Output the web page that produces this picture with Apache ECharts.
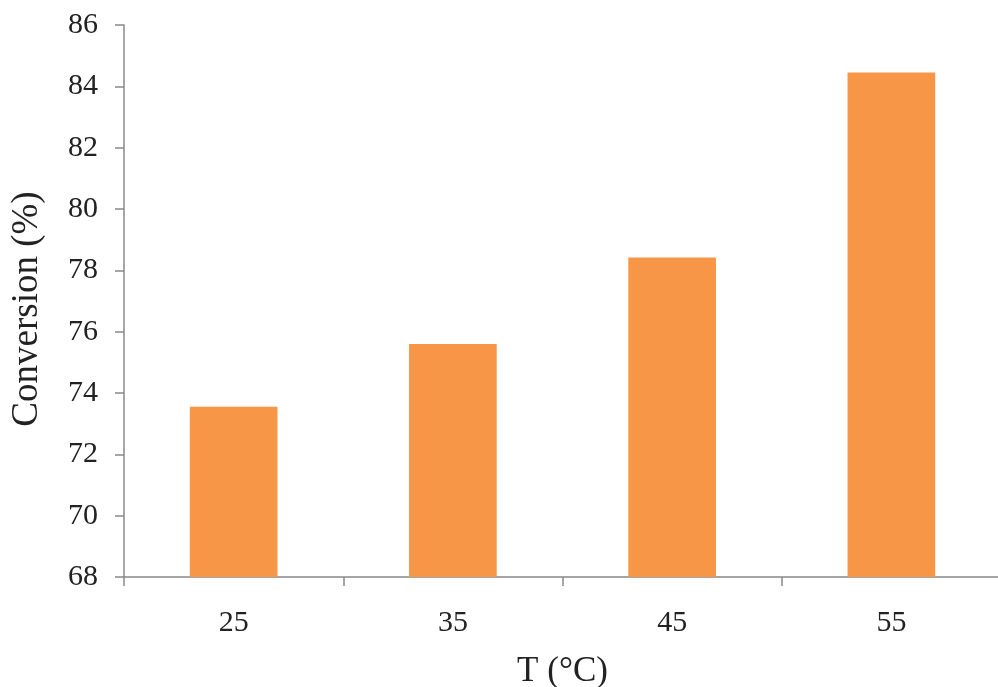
<!DOCTYPE html>
<html>
<head>
<meta charset="utf-8">
<script src="https://cdn.jsdelivr.net/npm/echarts@6/dist/echarts.min.js"></script>
<style>html,body{margin:0;padding:0;background:#fff;}#c{width:998px;height:687px;}</style>
</head>
<body>
<div id="c"></div>
<script>
const categories = ['25', '35', '45', '55'];
const conversion = [73.55, 75.6, 78.42, 84.45];
const yTicks = [68, 70, 72, 74, 76, 78, 80, 82, 84, 86];

const chart = echarts.init(document.getElementById('c'));
const font = '"Liberation Serif", "Times New Roman", serif';
chart.setOption({
  animation: false,
  backgroundColor: '#ffffff',
  grid: { left: 124, top: 25, width: 877, height: 552, containLabel: false, outerBoundsMode: 'none' },
  xAxis: {
    type: 'category',
    data: categories,
    name: 'T (°C)',
    nameLocation: 'middle',
    nameGap: 77,
    nameTextStyle: { fontFamily: font, fontSize: 35, color: '#222' },
    axisLine: { lineStyle: { color: '#888', width: 1.5 } },
    axisTick: { show: true, length: 9, lineStyle: { color: '#888', width: 1.5 } },
    axisLabel: { fontFamily: font, fontSize: 30, color: '#222', margin: 31 },
    splitLine: { show: false }
  },
  yAxis: {
    type: 'value',
    min: yTicks[0],
    max: yTicks[yTicks.length - 1],
    interval: 2,
    name: 'Conversion (%)',
    nameLocation: 'middle',
    nameGap: 78,
    nameTextStyle: { fontFamily: font, fontSize: 37, color: '#222', padding: [0, 16, 0, 0] },
    axisLine: { show: true, lineStyle: { color: '#888', width: 1.5 } },
    axisTick: { show: true, length: 9, lineStyle: { color: '#888', width: 1.5 } },
    axisLabel: { fontFamily: font, fontSize: 30, color: '#222', margin: 26 },
    splitLine: { show: false }
  },
  series: [{
    type: 'bar',
    data: conversion,
    barWidth: '40%',
    itemStyle: { color: '#F79646' }
  }]
});
</script>
</body>
</html>
